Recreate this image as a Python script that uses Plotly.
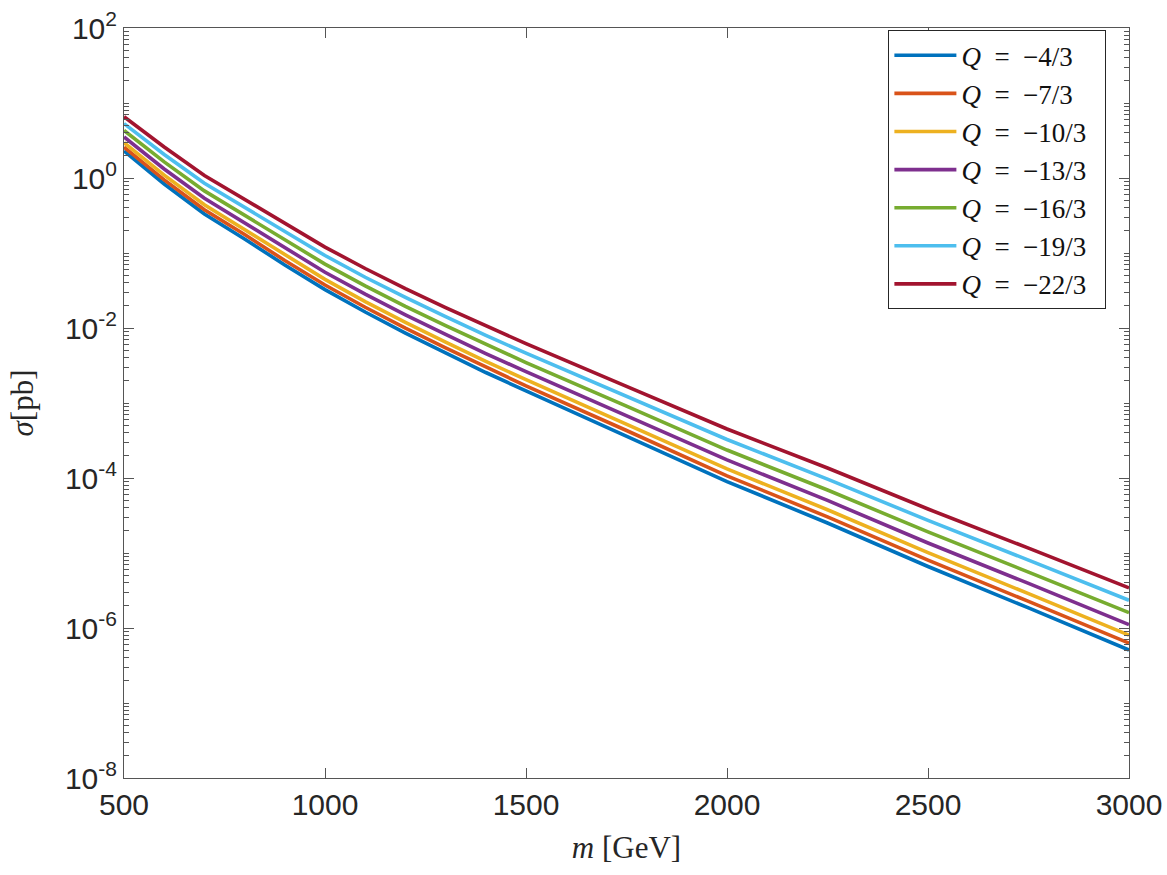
import plotly.graph_objects as go

m = [500, 600, 700, 800, 900, 1000, 1100, 1200, 1300, 1400, 1500, 1750, 2000, 2250, 2500, 2750, 3000]

labels = ["-4/3", "-7/3", "-10/3", "-13/3", "-16/3", "-19/3", "-22/3"]

sigma_q4 = [2.29, 0.832, 0.331, 0.154, 0.0692, 0.0325, 0.01633, 0.00857, 0.00465, 0.00255, 0.00145, 3.63e-4, 8.97e-5, 2.51e-5, 6.61e-6, 1.85e-6, 5.09e-7]
sigma_q7 = [2.57, 0.942, 0.377, 0.176, 0.0794, 0.0375, 0.01892, 0.00995, 0.00542, 0.00299, 0.00169, 4.30e-4, 1.07e-4, 3.03e-5, 8.02e-6, 2.26e-6, 6.28e-7]
sigma_q10 = [2.95, 1.09, 0.440, 0.206, 0.0935, 0.0445, 0.02249, 0.01189, 0.00649, 0.00359, 0.00205, 5.24e-4, 1.32e-4, 3.77e-5, 1.01e-5, 2.87e-6, 8.04e-7]
sigma_q13 = [3.52, 1.32, 0.537, 0.253, 0.116, 0.0554, 0.02825, 0.0150, 0.00822, 0.00457, 0.00262, 6.79e-4, 1.74e-4, 5.02e-5, 1.36e-5, 3.93e-6, 1.11e-6]
sigma_q16 = [4.31, 1.64, 0.673, 0.318, 0.147, 0.0711, 0.0364, 0.0194, 0.01072, 0.0060, 0.00346, 9.08e-4, 2.36e-4, 6.92e-5, 1.91e-5, 5.56e-6, 1.60e-6]
sigma_q19 = [5.32, 2.06, 0.851, 0.406, 0.190, 0.0925, 0.0475, 0.02553, 0.01416, 0.00796, 0.00462, 1.23e-3, 3.26e-4, 9.68e-5, 2.72e-5, 8.04e-6, 2.34e-6]
sigma_q22 = [6.56, 2.59, 1.08, 0.518, 0.244, 0.120, 0.0621, 0.0335, 0.0187, 0.01059, 0.00618, 1.67e-3, 4.50e-4, 1.36e-4, 3.86e-5, 1.16e-5, 3.42e-6]

series = [sigma_q4, sigma_q7, sigma_q10, sigma_q13, sigma_q16, sigma_q19, sigma_q22]
colors = ["#0072BD", "#D95319", "#EDB120", "#7E2F8E", "#77AC30", "#4DBEEE", "#A2142F"]

x_ticks = [500, 1000, 1500, 2000, 2500, 3000]
y_exps = [-8, -6, -4, -2, 0, 2]

fig = go.Figure()
for lab, ys, c in zip(labels, series, colors):
    name = "<i>Q</i>\u2002=\u2002" + lab.replace("-", "\u2212") + "\u2002"
    fig.add_trace(go.Scatter(x=m, y=ys, mode="lines", name=name,
                             line=dict(color=c, width=3.6)))

axis_col = "#555555"
tick_font = dict(family="Liberation Sans, Arial, sans-serif", size=30, color="#262626")
title_font = dict(family="Liberation Serif, Times New Roman, serif", size=31, color="#262626")

minor_vals = [k * 10 ** e for e in range(-8, 2) for k in range(1, 10)]

fig.update_layout(
    width=1167, height=875,
    margin=dict(l=124, r=38, t=28, b=97),
    paper_bgcolor="white", plot_bgcolor="white",
    showlegend=True,
    legend=dict(
        x=0.9775, y=0.997, xanchor="right", yanchor="top",
        bgcolor="white", bordercolor="#262626", borderwidth=1,
        font=dict(family="Liberation Serif, Times New Roman, serif", size=27, color="#111111"),
        itemwidth=62, tracegroupgap=0,
    ),
    xaxis=dict(
        range=[500, 3000], tickvals=x_ticks, ticktext=[str(v) for v in x_ticks],
        ticks="inside", ticklen=10, tickcolor=axis_col, tickwidth=1,
        showline=True, linecolor=axis_col, linewidth=1, mirror="ticks",
        showgrid=False, zeroline=False, tickfont=tick_font, automargin=False,
        title=dict(text="<i>m</i> [GeV]", font=title_font, standoff=16),
    ),
    yaxis=dict(
        type="log", range=[-8, 2],
        tickvals=[10 ** e for e in y_exps],
        ticktext=["10<sup>%d</sup>" % e for e in y_exps],
        ticks="inside", ticklen=10, tickcolor=axis_col, tickwidth=1,
        showline=True, linecolor=axis_col, linewidth=1, mirror="ticks",
        showgrid=False, zeroline=False, tickfont=tick_font, automargin=False,
        minor=dict(tickvals=minor_vals, ticks="inside", ticklen=5,
                   tickcolor=axis_col, tickwidth=1, showgrid=False),
        title=dict(text="<i>\u03c3</i>[pb]", font=title_font, standoff=22),
    ),
)

fig.write_html("out.html")
